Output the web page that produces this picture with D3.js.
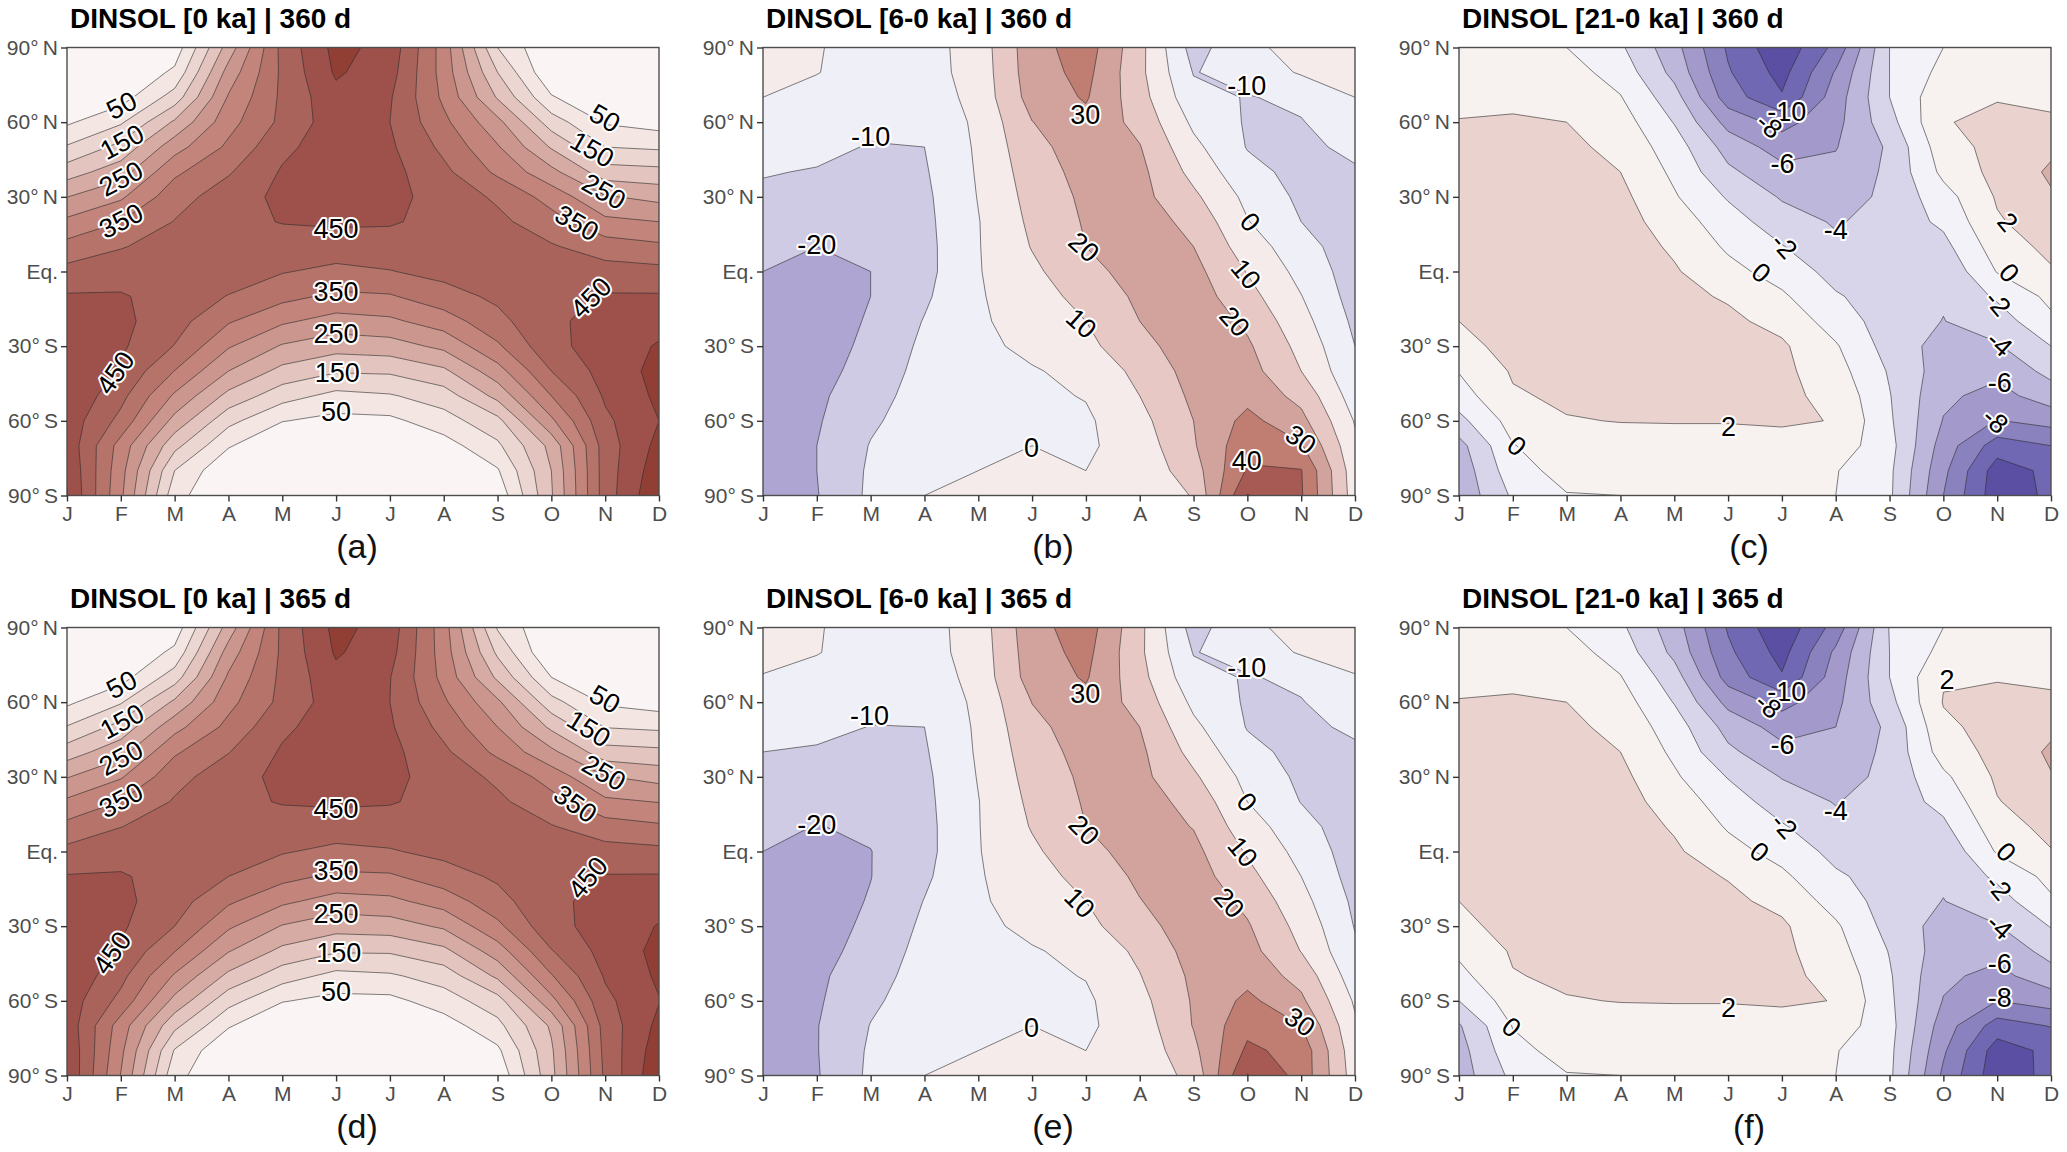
<!DOCTYPE html>
<html>
<head>
<meta charset="utf-8">
<script src="https://cdn.jsdelivr.net/npm/d3@7"></script>
<style>
  html, body { margin: 0; background: #fff; }
  text { font-family: "Liberation Sans", Arial, sans-serif; }
</style>
</head>
<body>
<svg id="chart" width="2067" height="1152"></svg>
<script>
const months = ['J', 'F', 'M', 'A', 'M', 'J', 'J', 'A', 'S', 'O', 'N', 'D'];
const latTicks = [90, 60, 30, 0, -30, -60, -90];
const latLabels = ['90°\u2009N', '60°\u2009N', '30°\u2009N', 'Eq.', '30°\u2009S', '60°\u2009S', '90°\u2009S'];

// rows run 90N to 90S in 10 degree steps, columns J to D
const dinsol0_360 = [
  [0,0,20,222,415,516,481,328,100,0,0,0],
  [0,0,60,270,410,507,470,330,150,5,0,0],
  [0,28,122,305,410,485,455,340,195,55,0,0],
  [42,93,208,332,412,478,450,362,265,125,45,28],
  [105,165,280,360,438,478,458,388,305,195,100,92],
  [177,228,340,395,455,478,466,412,340,265,172,165],
  [249,292,380,425,462,470,465,430,392,330,255,235],
  [311,350,402,437,452,458,455,435,412,370,312,300],
  [367,397,420,440,430,425,428,432,422,405,375,360],
  [416,427,430,425,403,388,398,415,420,420,420,415],
  [455,455,428,398,365,340,345,380,410,435,455,455],
  [472,462,420,355,308,280,290,325,385,442,465,482],
  [485,458,398,305,245,220,228,262,342,438,470,505],
  [497,443,349,250,185,155,158,190,280,400,470,515],
  [495,415,292,185,120,85,95,125,215,350,457,510],
  [480,385,233,115,52,35,38,78,135,290,440,500],
  [484,330,165,55,0,0,0,28,90,215,425,515],
  [495,318,100,5,0,0,0,0,45,200,425,530],
  [503,310,68,0,0,0,0,0,15,195,425,545]
];
const dinsol6_360 = [
  [6,0.5,-3,-4,4.5,26,35,13,-14,-2,3,5],
  [3,0.3,-4,-4,4,25.5,33,12.5,-10.5,-6,1,3],
  [0,-3,-6,-6,3.5,24,31,14,-7,-10.5,-8,0],
  [-4,-6,-8,-8,2,19.8,27,17,-2,-11,-10.5,-4],
  [-7,-8,-10.5,-10,1.5,17,25,20.5,2.5,-10.5,-12,-8],
  [-9.5,-10.5,-12,-11,1,15,23.5,22.5,7,-7,-13,-11],
  [-11.5,-14,-14,-12,0.4,13.4,22,23,12,-2.5,-12,-13],
  [-14,-17,-16,-12.5,-0.4,12,21,25,17,0.5,-10,-15],
  [-17,-20,-18.5,-13,-0.5,10.5,20,25,20,5,-6,-16],
  [-20,-23,-20,-13,-0.6,8,17,24,23,9.5,-3,-15],
  [-22,-25,-20,-11.5,-1,6,13,22,25,13.5,0.3,-14],
  [-24,-25,-19,-9.5,-1.5,4.5,10,20,27,18,3.5,-12],
  [-26,-25,-17.5,-8,-3,3,7.5,16.5,26,21.5,7,-10],
  [-27,-24,-15.5,-7,-6,-1,3.5,12.5,24,24,10,-8],
  [-28,-22,-13.5,-6,-6,-2,0.5,10,22,27,17,-5],
  [-29,-21,-11.5,-5,-3,-1.5,-1.5,7,20,33,23,-0.7],
  [-29,-20,-9.5,-4,-1.5,0,-1.5,4.5,19,37,31,2],
  [-29,-20,-8.5,-2,0,2,0,3,15.5,41,40.5,4],
  [-28,-20.5,-8,0,0.5,3,2.5,3,10.6,50.5,41,5]
];
const dinsol21_360 = [
  [0.7,0.1,0,-1.7,-5.3,-10.3,-13.5,-9.4,-2,0,0.5,0.7],
  [0.9,1,0.8,-0.8,-4.6,-9.8,-12.7,-7.8,-2,0.6,1.2,1.2],
  [1.4,1.6,1.5,0.1,-3.2,-9,-11.8,-7,-2,1.5,1.9,1.7],
  [2.1,2.2,2,0.9,-2.1,-6.7,-8.7,-6.6,-2.7,1.9,2.4,2.2],
  [2.4,2.6,2.5,1.4,-1,-4.8,-6.9,-6.1,-3.7,1.2,2.6,3.6],
  [2.6,3,2.9,2,-0.4,-3.6,-5.4,-5.5,-3.6,0.5,2.6,4.3],
  [2.9,3.2,3.1,2.5,0.2,-2.2,-4.2,-5,-3.5,-0.8,2.2,3.8],
  [3,3.2,3.3,2.8,1,-1.1,-3.1,-4.2,-3.2,-1.6,1.8,3],
  [3,3.2,3.3,3,1.7,-0.3,-1.9,-3.6,-3.2,-2.6,1,2.5],
  [2.7,3.1,3.3,3.2,2.2,0.6,-0.8,-2.7,-3.1,-3.6,0.1,1.8],
  [2.3,3,3.2,3.1,2.5,1.8,0.3,-1.8,-3,-3.8,-1.7,0.5],
  [2,2.8,3,3.1,2.7,2.4,1.4,-0.9,-3,-4.05,-3,-0.4],
  [1.5,2.5,2.9,2.9,2.7,2.5,2.3,0.2,-2.8,-4.8,-4.2,-2],
  [0.1,2.2,2.6,2.8,2.6,2.5,2.45,0.8,-2.2,-5,-5.5,-3.4],
  [-0.9,1.8,2.3,2.5,2.3,2.4,2.4,1.5,-1.9,-5.6,-6.7,-5],
  [-2.6,0.8,1.9,2.05,2.05,2.05,2.1,1.97,-1.7,-6.1,-8.1,-7.3],
  [-4.7,-0.1,1.3,1.3,1.6,1.6,1.7,1.1,-1.3,-6.9,-11,-10],
  [-5.3,-0.8,0.7,0.6,1.2,1.4,1.4,0.1,-1.6,-7.5,-13,-11.5],
  [-5.5,-1.7,-0.1,0,0.9,1.2,1.2,0,-1.65,-8,-13.2,-11.6]
];
const dinsol0_365 = [
  [0,0,20,222,412,515,478,322,95,0,0,0],
  [0,0,62,272,410,506,468,326,140,0,0,0],
  [0,30,125,308,412,486,452,335,190,50,0,0],
  [40,95,210,335,414,476,450,358,260,118,42,26],
  [103,168,283,364,440,477,456,385,300,190,98,90],
  [175,232,343,398,456,477,464,410,338,262,170,162],
  [247,295,383,428,463,470,463,428,390,328,253,232],
  [309,352,405,438,453,458,454,433,410,368,310,298],
  [365,399,422,441,430,425,426,430,420,403,373,358],
  [414,429,432,426,404,388,396,413,418,418,418,413],
  [453,455,430,400,366,340,343,378,408,433,453,454],
  [470,462,422,358,310,280,288,322,382,441,463,480],
  [483,458,400,308,247,220,226,258,338,436,468,503],
  [495,443,352,253,187,155,156,187,276,397,468,513],
  [493,415,294,188,122,85,93,122,210,346,455,508],
  [478,385,235,118,53,35,36,75,130,285,438,498],
  [482,326,163,55,0,0,0,26,85,208,420,513],
  [492,312,96,4,0,0,0,0,40,192,415,528],
  [496,298,66,0,0,0,0,0,12,185,410,540]
];
const dinsol6_365 = [
  [6,0.5,-3,-4,4.7,26.5,35,12.5,-14,-2,3,5],
  [3,0.4,-4,-4,4.2,25.5,33,12,-10.5,-6,1,3],
  [-0.5,-3,-6,-6,3.6,24.5,31,13.5,-7,-10.7,-8,-0.5],
  [-4,-6,-8,-8,2.2,20.2,27,16.5,-2.2,-11.2,-10.5,-4],
  [-7.5,-8,-10.2,-10,1.6,17.3,25,20,2.2,-10.5,-12,-8.5],
  [-10,-10.8,-12,-11,1.2,15.3,23.5,22,6.7,-7.2,-13,-11.5],
  [-12,-14,-14,-12,0.5,13.7,22,22.6,11.6,-3,-12,-13.2],
  [-14.5,-17,-16,-12.5,-0.3,12.2,21,24.6,16.6,0,-10.3,-15],
  [-17.5,-20.3,-18.5,-13,-0.4,10.7,20,25,19.6,4.5,-6.3,-16],
  [-20,-23,-20.2,-13,-0.5,8.2,17,24,22.6,9,-3.3,-15],
  [-22,-25,-20.2,-11.7,-0.9,6.2,13,22,24.6,13,0,-14],
  [-24,-25,-19.3,-9.7,-1.4,4.7,10,19.6,26.6,17.6,3.2,-12],
  [-26,-25,-17.7,-8.2,-3,3,7.4,16,26,21,6.7,-10.5],
  [-27,-24,-15.7,-7,-6,-1,3.2,12,24,23.6,9.7,-8.5],
  [-28,-22,-13.7,-6,-6,-2,0.4,9.6,22,26.6,16.5,-5.5],
  [-29,-21.3,-11.7,-5,-3,-1.5,-1.5,7,21,32.5,22,-1.3],
  [-29,-20.4,-9.7,-4,-1.5,0,-1.5,4.7,20.5,37,30,1.5],
  [-29,-20.4,-8.6,-2,0,2,0,3.2,17.5,42,36.5,3.5],
  [-28,-20.8,-8,0,0.5,3,2.5,3.2,13,50.5,36.5,5]
];
const dinsol21_365 = [
  [0.7,0.1,0,-1.6,-5.1,-10.2,-13.5,-9.2,-1.9,0,0.5,0.7],
  [0.9,1,0.8,-0.8,-4.5,-9.6,-12.7,-7.6,-2,0.6,1.2,1.2],
  [1.4,1.6,1.5,0.1,-3.1,-8.8,-11.8,-7,-2,1.85,1.9,1.8],
  [2.1,2.2,2,0.9,-2.1,-6.6,-8.7,-6.5,-2.6,2.1,2.4,2.2],
  [2.4,2.6,2.5,1.4,-1,-4.7,-6.8,-6,-3.6,1.6,2.7,3.6],
  [2.6,3,2.9,2,-0.4,-3.6,-5.4,-5.4,-3.5,0.9,2.6,4.3],
  [2.9,3.2,3.1,2.5,0.3,-2.1,-4.1,-4.9,-3.4,-0.4,2.3,3.9],
  [3,3.2,3.3,2.8,1.1,-1,-3,-4.1,-3.1,-1.4,1.9,3.1],
  [3,3.2,3.3,3,1.8,-0.2,-1.8,-3.5,-3.1,-2.4,1.1,2.6],
  [2.7,3.1,3.3,3.2,2.3,0.7,-0.7,-2.6,-3,-3.5,0.2,1.9],
  [2.3,3,3.2,3.1,2.6,1.9,0.4,-1.7,-2.9,-3.7,-1.6,0.6],
  [2,2.8,3,3.1,2.7,2.4,1.5,-0.8,-2.9,-4.05,-2.9,-0.3],
  [1.6,2.5,2.9,2.9,2.7,2.5,2.3,0.3,-2.7,-4.8,-4.1,-1.9],
  [0.4,2.2,2.6,2.8,2.6,2.5,2.45,0.8,-2.1,-5,-5.4,-3.3],
  [-0.6,1.9,2.3,2.5,2.3,2.4,2.4,1.5,-1.8,-5.6,-6.6,-4.8],
  [-2,1,1.9,2.05,2.05,2.05,2.1,1.98,-1.6,-6.1,-8,-7.1],
  [-4.2,0.1,1.3,1.3,1.6,1.6,1.7,1.1,-1.3,-7,-10.9,-9.9],
  [-4.8,-0.6,0.7,0.6,1.2,1.4,1.4,0.1,-1.5,-7.7,-13,-11.5],
  [-5,-1.5,-0.1,0,0.9,1.2,1.2,0,-1.6,-8.4,-13.3,-11.4]
];

const insolLevels = [50, 100, 150, 200, 250, 300, 350, 400, 450, 500];
const insolColors = ['#faf5f4', '#f3e6e3', '#ebd6d2', '#e3c4bf', '#d6aba3', '#cb968d', '#c2847b', '#b5736a', '#a9635b', '#9e504b', '#913f35'];
const diff6Levels = [-20, -10, 0, 10, 20, 30, 40, 50];
const diff6Colors = ['#aea5d3', '#cfcbe4', '#efeff7', '#f6ebeb', '#e7c8c4', '#d2a39c', '#c07d72', '#a75a53', '#8f3e36'];
const diff21Levels = [-12, -10, -8, -6, -4, -2, 0, 2, 4];
const diff21Colors = ['#5a4fa2', '#7168b3', '#8a81bf', '#a39acb', '#bdb7dc', '#d8d5eb', '#f2f2f8', '#f7f1ef', '#ead3ce', '#d8afa8'];

// contour labels: text, month index, latitude, rotation
const labelsA = [
  ['50',1.01,66.9,-27],['150',1.02,52.2,-28],['250',1,37.4,-28],['350',1,20.5,-27],
  ['450',5,17.2,0],['350',5,-7.9,0],['250',5,-24.9,0],['150',5.02,-40.6,0],['50',5,-56,0],
  ['450',0.89,-40.6,-55],['50',10,61.7,30],['150',9.76,49.2,30],['250',9.98,32.3,30],['350',9.48,19.7,30],['450',9.73,-10.4,-45]
];
const labelsB = [
  ['-10',2,54.4,0],['-20',1,10.9,0],['30',5.99,63.2,0],['20',5.97,9.9,42],['10',5.92,-20.7,42],['0',4.99,-70.5,0],
  ['-10',8.99,74.7,0],['0',9.06,20,48],['10',8.98,-0.9,50],['20',8.77,-20,48],['30',10,-67.4,35],['40',8.99,-76,0]
];
const labelsC = [
  ['-10',6.09,64.4,0],['-8',5.77,58.8,40],['-6',6.01,43.6,0],['-4',7,16.8,0],['-2',6.05,10.5,48],['0',5.62,-0.4,40],
  ['2',10.2,20,50],['0',10.23,-0.4,48],['-2',10.02,-12.6,50],['-4',10.05,-28.8,42],['-6',10.05,-44.6,0],['-8',9.97,-59.8,42],
  ['2',5.01,-62.3,0],['0',1.08,-70,40]
];
const labelsD = [
  ['50',1.01,67.2,-28],['150',1.02,52.4,-28],['250',1,37.7,-28],['350',1,20.8,-28],
  ['450',5,17.5,0],['350',5,-7.6,0],['250',5,-24.9,0],['150',5.05,-40.6,0],['50',5,-56.2,0],
  ['450',0.83,-40.6,-55],['50',10,61.3,30],['150',9.7,49.5,32],['250',9.98,31.8,30],['350',9.45,19.3,35],['450',9.67,-10.4,-50]
];
const labelsE = [
  ['-10',1.98,54.7,0],['-20',1,10.8,0],['30',5.99,63.5,0],['20',5.97,8.7,45],['10',5.89,-20.5,45],['0',4.99,-70.5,0],
  ['-10',8.99,74.2,0],['0',9,20,48],['10',8.92,0,50],['20',8.67,-20.5,48],['30',9.98,-68.3,35]
];
const labelsF = [
  ['-10',6.09,64.2,0],['-8',5.75,58.8,40],['-6',6.01,43.2,0],['-4',7,16.6,0],['-2',6.05,10.5,48],['0',5.59,-0.1,40],
  ['2',9.07,69.4,0],['0',10.17,-0.1,45],['-2',10.03,-14.3,50],['-4',10.05,-30,42],['-6',10.05,-44.8,0],['-8',10.05,-58.7,0],
  ['2',5.01,-62.4,0],['0',0.98,-70.5,40]
];

const panels = [
  { col: 0, row: 0, title: 'DINSOL [0 ka] | 360 d', tag: '(a)', grid: dinsol0_360, levels: insolLevels, colors: insolColors, labels: labelsA },
  { col: 1, row: 0, title: 'DINSOL [6-0 ka] | 360 d', tag: '(b)', grid: dinsol6_360, levels: diff6Levels, colors: diff6Colors, labels: labelsB },
  { col: 2, row: 0, title: 'DINSOL [21-0 ka] | 360 d', tag: '(c)', grid: dinsol21_360, levels: diff21Levels, colors: diff21Colors, labels: labelsC },
  { col: 0, row: 1, title: 'DINSOL [0 ka] | 365 d', tag: '(d)', grid: dinsol0_365, levels: insolLevels, colors: insolColors, labels: labelsD },
  { col: 1, row: 1, title: 'DINSOL [6-0 ka] | 365 d', tag: '(e)', grid: dinsol6_365, levels: diff6Levels, colors: diff6Colors, labels: labelsE },
  { col: 2, row: 1, title: 'DINSOL [21-0 ka] | 365 d', tag: '(f)', grid: dinsol21_365, levels: diff21Levels, colors: diff21Colors, labels: labelsF }
];

const lefts = [67, 763, 1459];
const tops = [47.5, 627.5];
const width = 592;
const height = 448;

const svg = d3.select('#chart');

panels.forEach((p, idx) => {
  const g = svg.append('g').attr('transform', `translate(${lefts[p.col]},${tops[p.row]})`);

  const x = d3.scaleLinear().domain([0, 11]).range([0, width]);
  const y = d3.scaleLinear().domain([90, -90]).range([0, height]);
  // d3.contours puts grid value i at i + 0.5
  const gx = d3.scaleLinear().domain([0.5, 11.5]).range([0, width]);
  const gy = d3.scaleLinear().domain([0.5, 18.5]).range([0, height]);

  const path = d3.geoPath(d3.geoTransform({
    point(px, py) { this.stream.point(gx(px), gy(py)); }
  }));

  const contours = d3.contours()
    .size([p.grid[0].length, p.grid.length])
    .thresholds(p.levels)(p.grid.flat());

  const clipId = `clip-${idx}`;
  g.append('clipPath').attr('id', clipId)
    .append('rect').attr('width', width).attr('height', height);

  const plot = g.append('g').attr('clip-path', `url(#${clipId})`);
  plot.append('rect').attr('width', width).attr('height', height).attr('fill', p.colors[0]);
  plot.selectAll('path')
    .data(contours)
    .enter()
    .append('path')
    .attr('d', path)
    .attr('fill', (d, i) => p.colors[i + 1])
    .attr('stroke', '#2b2b2b')
    .attr('stroke-opacity', 0.75)
    .attr('stroke-width', 0.8);

  g.selectAll('text.clabel')
    .data(p.labels)
    .enter()
    .append('text')
    .attr('class', 'clabel')
    .attr('transform', d => `translate(${x(d[1])},${y(d[2])}) rotate(${d[3]})`)
    .attr('text-anchor', 'middle')
    .attr('dy', '0.36em')
    .attr('font-size', 27)
    .attr('fill', '#000')
    .attr('stroke', '#fff')
    .attr('stroke-width', 4)
    .attr('stroke-linejoin', 'round')
    .attr('paint-order', 'stroke')
    .text(d => d[0]);

  g.append('rect')
    .attr('width', width).attr('height', height)
    .attr('fill', 'none').attr('stroke', '#4d4d4d').attr('stroke-width', 1.4);

  const xAxis = g.append('g')
    .attr('transform', `translate(0,${height})`)
    .call(d3.axisBottom(x).tickValues(d3.range(12)).tickFormat(i => months[i]).tickSize(6).tickPadding(5));
  const yAxis = g.append('g')
    .call(d3.axisLeft(y).tickValues(latTicks).tickFormat((d, i) => latLabels[i]).tickSize(6).tickPadding(3));

  [xAxis, yAxis].forEach(a => {
    a.select('.domain').remove();
    a.selectAll('line').attr('stroke', '#333').attr('stroke-width', 1.4);
    a.selectAll('text').attr('fill', '#4d4d4d').attr('font-size', 21)
      .attr('font-family', '"Liberation Sans", Arial, sans-serif');
  });

  g.append('text')
    .attr('x', 3).attr('y', -20)
    .attr('font-size', 28).attr('font-weight', 'bold').attr('fill', '#000')
    .text(p.title);

  g.append('text')
    .attr('x', width / 2 - 6).attr('y', height + 62)
    .attr('text-anchor', 'middle').attr('font-size', 34).attr('fill', '#111')
    .text(p.tag);
});
</script>
</body>
</html>
